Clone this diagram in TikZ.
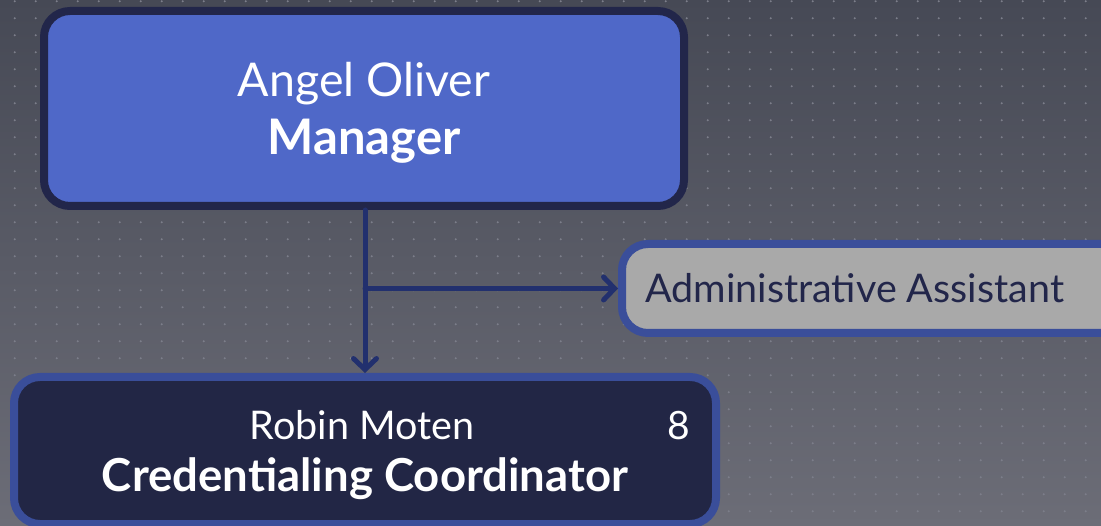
\documentclass[tikz,border=0pt]{standalone}
\usepackage{fontspec}
\setmainfont{Lato}
\usetikzlibrary{arrows.meta}
\definecolor{bgdark}{HTML}{464955}
\definecolor{bglight}{HTML}{6C6D77}
\definecolor{gridgray}{HTML}{7C7E8A}
\definecolor{mgrblue}{HTML}{4F68C8}
\definecolor{mgrnavy}{HTML}{22264A}
\definecolor{boxedge}{HTML}{3A4E9A}
\definecolor{boxnavy}{HTML}{222645}
\definecolor{assistgray}{HTML}{A9A9A9}
\definecolor{linkblue}{HTML}{22306E}
\tikzset{
  orgbox/.style={rounded corners=26pt, line width=8pt, inner sep=0pt},
  label/.style={anchor=base, text=white, inner sep=0pt},
  link/.style={draw=linkblue, line width=5pt, line cap=round,
    -{Straight Barb[length=11pt,width=23pt,line cap=round]}}
}
\begin{document}
\begin{tikzpicture}[x=1pt,y=-1pt]
\useasboundingbox (0,0) rectangle (1101,526);
% background with dots
\shade[shading angle=210, top color=bgdark, bottom color=bglight] (0,0) rectangle (1101,526);
\foreach \i in {0,...,52}
  \foreach \j in {0,...,30}
    \fill[gridgray] (14.7+21*\i,1.3+17*\j) circle (1.1pt);
% boxes
\node[orgbox, fill=mgrblue, draw=mgrnavy, minimum width=640pt, minimum height=195pt]
  (mgr) at (364,108.5) {};
\node[label, font=\fontsize{46.5}{58}\selectfont] (mgrname) at (364,97) {Angel Oliver};
\node[label, font=\fontsize{49}{58}\selectfont\bfseries] (mgrrole) at (364,155) {Manager};
\node[orgbox, fill=assistgray, draw=boxedge, minimum width=520pt, minimum height=89pt]
  (assist) at (882,288.5) {};
\node[label, anchor=base west, text=mgrnavy, font=\fontsize{39.5}{50}\selectfont]
  (assisttext) at (645,303) {Administrative Assistant};
\node[orgbox, fill=boxnavy, draw=boxedge, minimum width=702pt, minimum height=147pt]
  (robin) at (365,450.5) {};
\node[label, font=\fontsize{39.5}{46}\selectfont] (robinname) at (362,440) {Robin Moten};
\node[label, font=\fontsize{45.5}{52}\selectfont\bfseries]
  (robinrole) at (365,492) {Credentialing Coordinator};
\node[label, font=\fontsize{39}{46}\selectfont] (count) at (679,440) {8};
% connectors
\coordinate (split) at (robin.north |- assist.west);
\draw[link] (mgr.south -| robin.north) -- (robin.north);
\draw[link] (split) -- (assist.west);
\end{tikzpicture}
\end{document}
